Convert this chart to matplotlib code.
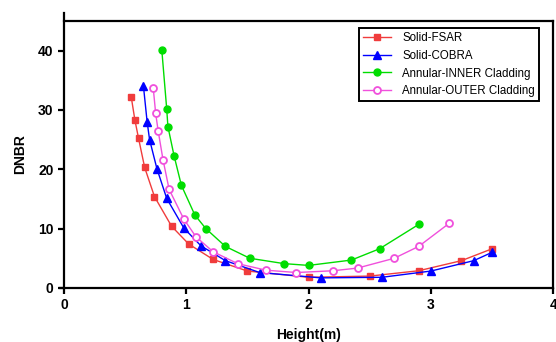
import matplotlib
matplotlib.use('Agg')
import matplotlib.pyplot as plt

plt.rcParams['font.family'] = ['Liberation Sans', 'DejaVu Sans']

# Solid-FSAR
fsar_x = [0.55, 0.58, 0.61, 0.66, 0.74, 0.88, 1.02, 1.22, 1.50, 2.00, 2.50, 2.90, 3.25, 3.50]
fsar_y = [32.2, 28.3, 25.2, 20.3, 15.4, 10.4, 7.4, 4.8, 2.85, 1.8, 2.0, 2.9, 4.6, 6.6]

# Solid-COBRA
cobra_x = [0.65, 0.68, 0.70, 0.76, 0.84, 0.98, 1.12, 1.32, 1.60, 2.10, 2.60, 3.00, 3.35, 3.50]
cobra_y = [34.0, 28.0, 25.0, 20.1, 15.1, 10.1, 7.1, 4.6, 2.6, 1.7, 1.8, 2.85, 4.6, 6.0]

# Annular inner cladding
inner_x = [0.80, 0.84, 0.85, 0.90, 0.96, 1.07, 1.16, 1.32, 1.52, 1.80, 2.00, 2.35, 2.58, 2.90]
inner_y = [40.1, 30.2, 27.2, 22.3, 17.3, 12.3, 10.0, 7.0, 5.0, 4.1, 3.8, 4.7, 6.6, 10.7]

# Annular outer cladding
outer_x = [0.73, 0.75, 0.77, 0.81, 0.86, 0.98, 1.08, 1.22, 1.42, 1.65, 1.90, 2.20, 2.40, 2.70, 2.90, 3.15]
outer_y = [33.7, 29.4, 26.5, 21.6, 16.6, 11.6, 8.6, 6.1, 4.1, 3.0, 2.6, 2.9, 3.35, 5.0, 7.0, 10.9]

fig = plt.figure(figsize=(5.56, 3.42), dpi=100)
ax = fig.add_axes([0.115, 0.158, 0.88, 0.781])

ax.plot(fsar_x, fsar_y, color='#f03c3c', lw=1, marker='s', ms=5, label='Solid-FSAR')
ax.plot(cobra_x, cobra_y, color='#0000ff', lw=1, marker='^', ms=6, label='Solid-COBRA')
ax.plot(inner_x, inner_y, color='#00dd00', lw=1, marker='o', ms=5, label='Annular-INNER Cladding')
ax.plot(outer_x, outer_y, color='#f050dc', lw=1, marker='o', ms=5, mfc='white',
        mew=1.3, label='Annular-OUTER Cladding')

ax.set_xlim(0, 4)
ax.set_ylim(0, 45)
ax.set_xticks([0, 1, 2, 3, 4])
ax.set_yticks([0, 10, 20, 30, 40])
for s in ax.spines.values():
    s.set_linewidth(1.6)
ax.spines['left'].set_bounds(0, 46.3)
ax.spines['bottom'].set_bounds(-0.035, 4)
ax.tick_params(direction='out', width=1.6, length=4, labelsize=10)
for t in ax.get_xticklabels() + ax.get_yticklabels():
    t.set_fontweight('bold')

ax.set_xlabel('Height(m)', fontsize=10, fontweight='bold', labelpad=11)
ax.set_ylabel('DNBR', fontsize=10, fontweight='bold', labelpad=8)

leg = ax.legend(loc='upper right', bbox_to_anchor=(0.983, 0.995), fontsize=8.3,
                fancybox=False, framealpha=1, edgecolor='black', borderpad=0.35,
                labelspacing=0.5, handlelength=2.4, handletextpad=1.0)
leg.get_frame().set_linewidth(1.4)

fig.savefig('out.png', dpi=100)
